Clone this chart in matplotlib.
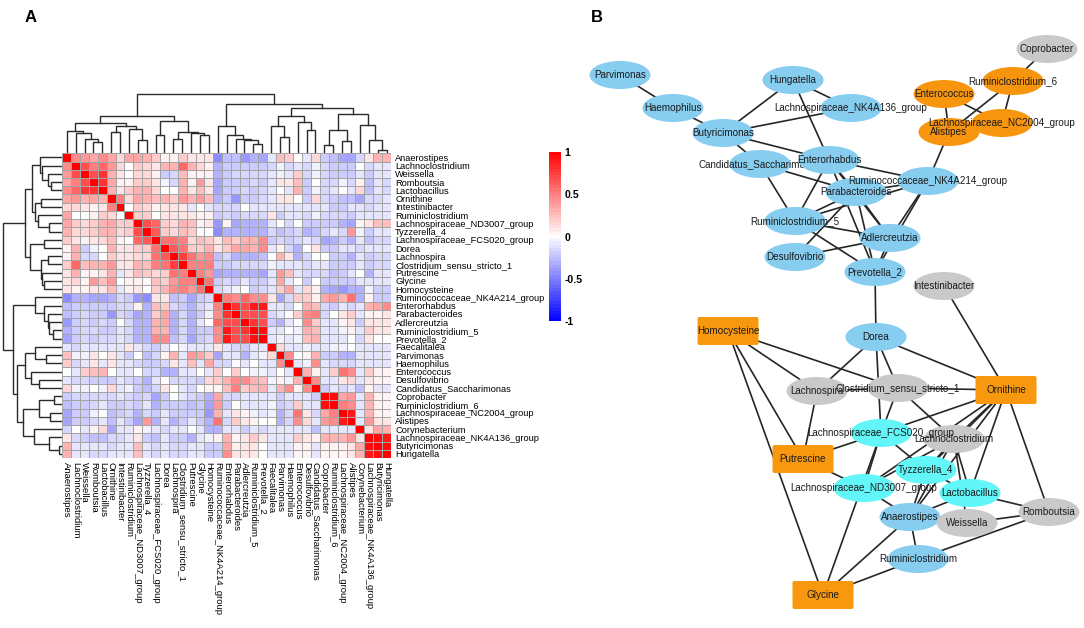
# Heatmap de correlaciones con dendrogramas (A) y red de asociaciones (B)
import matplotlib
matplotlib.use("Agg")
import matplotlib.pyplot as plt
import numpy as np
from matplotlib.colors import LinearSegmentedColormap
from matplotlib.patches import Ellipse, FancyBboxPatch

plt.rcParams['font.family'] = ['Liberation Sans', 'DejaVu Sans']

W, H = 1084, 628

# --- Datos del heatmap ---
labels = ['Anaerostipes', 'Lachnoclostridium', 'Weissella', 'Romboutsia', 'Lactobacillus', 'Ornithine',
          'Intestinibacter', 'Ruminiclostridium', 'Lachnospiraceae_ND3007_group', 'Tyzzerella_4',
          'Lachnospiraceae_FCS020_group', 'Dorea', 'Lachnospira', 'Clostridium_sensu_stricto_1', 'Putrescine',
          'Glycine', 'Homocysteine', 'Ruminococcaceae_NK4A214_group', 'Enterorhabdus', 'Parabacteroides',
          'Adlercreutzia', 'Ruminiclostridium_5', 'Prevotella_2', 'Faecalitalea', 'Parvimonas', 'Haemophilus',
          'Enterococcus', 'Desulfovibrio', 'Candidatus_Saccharimonas', 'Coprobacter', 'Ruminiclostridium_6',
          'Lachnospiraceae_NC2004_group', 'Alistipes', 'Corynebacterium', 'Lachnospiraceae_NK4A136_group',
          'Butyricimonas', 'Hungatella']

# triangulo superior, fila por fila (sin la diagonal)
upper = [
    [.45,.4,.35,.45,.35,.15,.35,.35,.3,.2,.05,.05,.2,.1,.1,.1,-.45, -.25,-.25,-.4,-.3,-.35,-.1,.25,.2,0,-.1,.15,-.2,-.25,-.35,-.35,-.15,.1,.3,.3],
    [.7,.5,.6,.4,.15,0,.2,.15,.1,.3,.3,.6,.3,.15,.05,-.3, -.2,-.2,-.2,-.2,-.2,-.15,-.05,-.15,-.1,-.15,-.05,-.15,-.2,-.2,-.2,0,-.15,-.1,-.1],
    [.7,.8,.3,.1,0,.15,.15,.05,-.2,-.15,.25,.05,.05,.05,-.3, -.2,-.15,-.15,-.15,-.15,-.1,-.05,-.1,.2,-.15,-.05,-.15,-.2,-.2,-.2,-.1,-.2,-.1,-.1],
    [.8,.35,.05,.05,.2,.2,.1,-.05,-.15,.3,.05,.4,.1,-.35, -.2,-.2,-.2,-.15,-.2,-.1,.1,.1,.25,-.2,0,-.15,-.15,-.05,-.15,.05,-.25,-.1,-.15],
    [.3,.1,.2,.3,.3,.15,0,0,.3,.1,.25,.1,-.35, -.2,-.2,-.15,-.2,-.15,-.1,0,-.1,.3,-.2,-.05,-.15,-.1,0,-.1,.15,-.25,-.1,-.15],
    [.5,.15,.35,.3,.25,.3,.2,.4,.3,.4,.25,-.3, -.2,-.4,-.2,-.2,-.15,-.1,.1,.1,0,-.2,.15,-.15,-.2,-.25,-.25,-.35,-.15,-.15,-.1],
    [0,.2,.15,.05,.1,.1,.1,-.1,0,-.1,-.15, -.15,-.15,0,-.1,-.1,-.1,-.1,-.1,-.1,-.1,-.1,-.1,-.2,-.2,-.1,-.1,-.15,-.1,-.1],
    [.2,.2,0,.1,.1,.1,.1,.05,.05,-.2, -.15,-.2,-.15,-.15,-.15,.1,-.2,-.1,-.1,-.15,-.05,-.15,-.15,-.15,-.2,-.1,-.1,-.1,-.1],
    [.7,.6,.2,.15,.3,.25,.05,.1,-.4, .05,-.35,-.3,-.3,-.3,-.1,0,-.15,0,-.2,-.2,-.2,-.2,-.3,-.35,.05,.1,.25,.25],
    [.65,.2,.15,.25,.2,.02,0,-.45, -.3,-.3,-.3,-.3,-.3,-.15,-.25,-.2,-.15,-.3,-.25,-.15,-.1,-.15,.4,-.05,-.2,-.1,-.1],
    [.55,.55,.5,.15,.25,.2,.1, .25,.2,.3,.3,.45,-.2,-.15,-.2,-.15,-.1,-.15,-.35,-.3,-.2,-.3,-.1,-.25,-.15,-.15],
    [.65,.55,.2,.2,.3,.1, .2,.35,.35,.3,.45,-.1,.05,-.15,-.3,0,.1,-.2,-.2,-.1,-.1,-.15,-.1,-.1,-.1],
    [.75,.55,.4,.45,-.25, -.15,-.3,-.3,-.3,-.25,0,.3,.1,-.3,-.15,0,0,-.2,-.2,-.3,-.1,-.2,-.15,-.15],
    [.5,.5,.5,-.2, -.2,-.15,-.15,-.15,-.15,-.05,-.1,-.1,-.1,-.15,-.1,-.1,-.2,-.2,-.2,-.1,-.2,-.15,-.15],
    [.5,.4,-.35, -.3,-.3,-.3,-.3,-.35,-.1,.4,.25,-.1,-.15,-.15,-.15,-.25,-.2,-.1,0,-.3,-.1,-.1],
    [.55,-.2, -.15,-.2,-.1,-.2,-.2,-.1,.35,-.1,0,-.2,0,-.2,-.2,-.2,-.2,-.1,-.1,-.1,-.1],
    [-.15, -.1,-.05,0,-.2,-.15,-.1,.2,.35,-.1,.15,.05,-.3,-.35,-.4,-.3,-.3,-.05,-.2,-.2],
    [.5,.45,.6,.45,.45,.1,-.35,-.15,.2,.2,.05,.35,.4,.3,.55,-.3,.05,-.2,-.2],
    [.8,.7,.9,.9,-.1,-.1,-.15,0,.3,.25,-.15,-.2,-.1,-.15,-.1,.3,.35,.45],
    [.7,.7,.7,-.15,-.1,-.02,.2,.45,.5,-.15,0,.1,.2,-.1,.05,.05,.1],
    [.8,.7,-.2,-.3,-.1,0,.45,.2,-.1,-.1,.05,.1,-.2,.1,.1,.1],
    [.95,-.1,-.1,0,-.05,.3,.25,-.1,-.1,-.05,.05,-.1,.2,.1,.1],
    [-.1,-.05,-.1,-.05,.25,.3,-.1,-.1,-.1,0,-.15,.1,0,0],
    [.15,-.1,-.1,-.05,-.1,-.1,-.05,-.05,0,-.1,-.1,-.1,-.1],
    [.45,0,.05,.3,-.2,-.2,-.3,-.3,-.1,-.1,-.1,-.1],
    [-.1,-.05,.45,-.1,-.15,-.15,-.15,-.1,-.1,-.1,-.1],
    [.3,.05,-.1,.2,.55,.45,-.1,.2,.05,.05],
    [.45,-.1,-.1,.1,.15,-.1,.1,.05,.05],
    [-.2,-.1,-.15,-.1,-.25,.05,-.1,-.1],
    [.95,.35,.4,-.1,.3,.05,.05],
    [.5,.45,-.1,.3,.05,.05],
    [.9,-.1,.3,.05,.05],
    [-.1,.4,.1,.1],
    [.1,.35,.3],
    [.95,.9],
    [.95],
]

# arbol del clustering: (altura, izquierda, derecha), las hojas son indices
tree = (59,
        (37.6,
         (30, (22, 0, (20, 1, (14, 2, (11, 3, 4)))), (27, (21, 5, 6), (24, 7, (13, 8, 9)))),
         (32, (18, 10, 11), (21, (14, 12, 13), (20, 14, (18, 15, 16))))),
        (49,
         (27, 17, (18, 18, (14, 19, (13, 20, (9, 21, 22))))),
         (45.7,
          (37, (27, 23, (16, 24, 25)), (31, 26, (23, 27, 28))),
          (39.3, (23, (8, 29, 30), (12, 31, 32)), (28, 33, (13, 34, (3, 35, 36)))))))

cbar_ticks = [-1, -0.5, 0, 0.5, 1]

# --- Datos de la red ---
node_names = ['Parvimonas', 'Haemophilus', 'Butyricimonas', 'Hungatella', 'Lachnospiraceae_NK4A136_group',
              'Candidatus_Saccharimonas', 'Enterorhabdus', 'Ruminococcaceae_NK4A214_group', 'Parabacteroides',
              'Ruminiclostridium_5', 'Adlercreutzia', 'Desulfovibrio', 'Prevotella_2', 'Coprobacter',
              'Ruminiclostridium_6', 'Enterococcus', 'Lachnospiraceae_NC2004_group', 'Alistipes', 'Intestinibacter',
              'Dorea', 'Homocysteine', 'Ornithine', 'Lachnospira', 'Clostridium_sensu_stricto_1',
              'Lachnospiraceae_FCS020_group', 'Lachnoclostridium', 'Putrescine', 'Tyzzerella_4',
              'Lachnospiraceae_ND3007_group', 'Lactobacillus', 'Anaerostipes', 'Weissella', 'Romboutsia',
              'Ruminiclostridium', 'Glycine']
node_x = [620, 673, 723, 793, 851, 760, 829, 928, 856, 795, 890, 795, 875, 1047, 1013, 944, 1002, 949, 944,
          876, 728, 1006, 817, 898, 881, 954, 803, 926, 864, 970, 910, 967, 1049, 918, 823]
node_y = [75, 108, 133, 80, 108, 164, 160, 181, 192, 221, 238, 257, 272, 49, 81, 94, 123, 132, 286,
          337, 331, 390, 391, 388, 433, 439, 459, 470, 488, 493, 517, 523, 512, 559, 595]
node_group = ['blue'] * 13 + ['grey', 'orange', 'orange', 'orange', 'orange', 'grey',
              'blue', 'met', 'met', 'grey', 'grey', 'cyan', 'grey', 'met', 'cyan', 'cyan', 'cyan',
              'blue', 'grey', 'grey', 'blue', 'met']
group_color = {'blue': '#87CDF0', 'orange': '#F8950F', 'cyan': '#62F6F8', 'grey': '#C9C9C9', 'met': '#F8980F'}

edges = [('Parvimonas', 'Haemophilus'), ('Haemophilus', 'Butyricimonas'), ('Butyricimonas', 'Hungatella'),
         ('Butyricimonas', 'Lachnospiraceae_NK4A136_group'), ('Hungatella', 'Lachnospiraceae_NK4A136_group'),
         ('Hungatella', 'Enterorhabdus'), ('Butyricimonas', 'Enterorhabdus'),
         ('Butyricimonas', 'Candidatus_Saccharimonas'), ('Candidatus_Saccharimonas', 'Parabacteroides'),
         ('Candidatus_Saccharimonas', 'Ruminiclostridium_5'), ('Enterorhabdus', 'Ruminococcaceae_NK4A214_group'),
         ('Enterorhabdus', 'Ruminiclostridium_5'), ('Enterorhabdus', 'Parabacteroides'),
         ('Enterorhabdus', 'Adlercreutzia'), ('Enterorhabdus', 'Prevotella_2'),
         ('Parabacteroides', 'Ruminococcaceae_NK4A214_group'), ('Parabacteroides', 'Ruminiclostridium_5'),
         ('Parabacteroides', 'Adlercreutzia'), ('Parabacteroides', 'Prevotella_2'),
         ('Parabacteroides', 'Desulfovibrio'), ('Ruminiclostridium_5', 'Ruminococcaceae_NK4A214_group'),
         ('Ruminiclostridium_5', 'Adlercreutzia'), ('Ruminiclostridium_5', 'Prevotella_2'),
         ('Desulfovibrio', 'Adlercreutzia'), ('Adlercreutzia', 'Ruminococcaceae_NK4A214_group'),
         ('Prevotella_2', 'Ruminococcaceae_NK4A214_group'), ('Prevotella_2', 'Adlercreutzia'),
         ('Prevotella_2', 'Dorea'), ('Ruminococcaceae_NK4A214_group', 'Alistipes'), ('Alistipes', 'Enterococcus'),
         ('Alistipes', 'Ruminiclostridium_6'), ('Enterococcus', 'Lachnospiraceae_NC2004_group'),
         ('Ruminiclostridium_6', 'Lachnospiraceae_NC2004_group'), ('Ruminiclostridium_6', 'Coprobacter'),
         ('Intestinibacter', 'Ornithine'), ('Dorea', 'Ornithine'), ('Dorea', 'Lachnospira'),
         ('Dorea', 'Clostridium_sensu_stricto_1'), ('Dorea', 'Lachnospiraceae_FCS020_group'),
         ('Homocysteine', 'Clostridium_sensu_stricto_1'), ('Homocysteine', 'Lachnospira'),
         ('Homocysteine', 'Putrescine'), ('Homocysteine', 'Glycine'), ('Lachnospira', 'Putrescine'),
         ('Lachnospira', 'Clostridium_sensu_stricto_1'), ('Clostridium_sensu_stricto_1', 'Ornithine'),
         ('Clostridium_sensu_stricto_1', 'Lachnospiraceae_FCS020_group'),
         ('Clostridium_sensu_stricto_1', 'Lachnoclostridium'), ('Ornithine', 'Lachnospiraceae_FCS020_group'),
         ('Ornithine', 'Lachnoclostridium'), ('Ornithine', 'Tyzzerella_4'), ('Ornithine', 'Lactobacillus'),
         ('Ornithine', 'Anaerostipes'), ('Ornithine', 'Lachnospiraceae_ND3007_group'), ('Ornithine', 'Romboutsia'),
         ('Lachnoclostridium', 'Weissella'), ('Lachnoclostridium', 'Lactobacillus'),
         ('Lachnoclostridium', 'Anaerostipes'), ('Lachnoclostridium', 'Lachnospiraceae_ND3007_group'),
         ('Lachnoclostridium', 'Tyzzerella_4'), ('Lachnospiraceae_FCS020_group', 'Putrescine'),
         ('Lachnospiraceae_FCS020_group', 'Tyzzerella_4'), ('Lachnospiraceae_FCS020_group', 'Lachnospiraceae_ND3007_group'),
         ('Lachnospiraceae_FCS020_group', 'Glycine'), ('Putrescine', 'Lachnospiraceae_ND3007_group'),
         ('Lachnospiraceae_ND3007_group', 'Anaerostipes'),
         ('Tyzzerella_4', 'Lactobacillus'), ('Tyzzerella_4', 'Anaerostipes'), ('Lactobacillus', 'Anaerostipes'),
         ('Lactobacillus', 'Romboutsia'), ('Weissella', 'Romboutsia'), ('Anaerostipes', 'Ruminiclostridium'),
         ('Anaerostipes', 'Glycine'), ('Ruminiclostridium', 'Glycine'), ('Ruminiclostridium', 'Romboutsia')]

# --- Matriz simetrica ---
n = len(labels)
mat = np.eye(n)
for i, fila in enumerate(upper):
    mat[i, i + 1:] = fila
    mat[i + 1:, i] = fila

cmap = LinearSegmentedColormap.from_list('bwr2', ['#0000FF', '#FFFFFF', '#FF0000'])


def px_axes(x0, y0, x1, y1):
    # ejes colocados en pixeles de la imagen (y hacia abajo)
    return fig.add_axes([x0 / W, 1 - y1 / H, (x1 - x0) / W, (y1 - y0) / H])


def dibuja_arbol(nodo, ax, vertical):
    # devuelve (posicion, altura) del nodo y pinta sus ramas
    if not isinstance(nodo, tuple):
        return nodo + 0.5, 0
    h, izq, der = nodo
    p1, h1 = dibuja_arbol(izq, ax, vertical)
    p2, h2 = dibuja_arbol(der, ax, vertical)
    a, b = [p1, p1, p2, p2], [h1, h, h, h2]
    if vertical:
        ax.plot(a, b, color='#2b2b2b', lw=1.0, solid_joinstyle='miter')
    else:
        ax.plot(b, a, color='#2b2b2b', lw=1.0, solid_joinstyle='miter')
    return (p1 + p2) / 2, h


fig = plt.figure(figsize=(W / 100, H / 100), dpi=100)

# --- Panel B: la red va en unos ejes que ocupan toda la figura ---
ax_net = fig.add_axes([0, 0, 1, 1])
ax_net.set_xlim(0, W)
ax_net.set_ylim(H, 0)
ax_net.axis('off')

pos = {name: (x, y) for name, x, y in zip(node_names, node_x, node_y)}
for a, b in edges:
    ax_net.plot([pos[a][0], pos[b][0]], [pos[a][1], pos[b][1]], color='#262626', lw=1.2, zorder=1)

for name, x, y, grupo in zip(node_names, node_x, node_y, node_group):
    color = group_color[grupo]
    # la etiqueta de Candidatus queda tapada por el nodo Enterorhabdus
    tapado = name == 'Candidatus_Saccharimonas'
    if grupo == 'met':
        caja = FancyBboxPatch((x - 29, y - 12.5), 58, 25, boxstyle='round,pad=1.5,rounding_size=2',
                              fc=color, ec='none', zorder=2)
        ax_net.add_patch(caja)
    else:
        ax_net.add_patch(Ellipse((x, y), 61, 28, fc=color, ec='none', zorder=1.8 if tapado else 2))
    ax_net.text(x, y, name, ha='center', va='center', fontsize=7.15, color='#1a1a1a', zorder=1.9 if tapado else 3)

ax_net.text(31, 17, 'A', fontsize=12, fontweight='bold', ha='center', va='center')
ax_net.text(597, 17, 'B', fontsize=12, fontweight='bold', ha='center', va='center')

# --- Panel A: heatmap ---
gx0, gy0, gx1, gy1 = 62.3, 153.3, 391, 458
ax = px_axes(gx0, gy0, gx1, gy1)
ax.pcolormesh(np.arange(n + 1), np.arange(n + 1), mat, cmap=cmap, vmin=-1, vmax=1,
              edgecolors='#a4a4a4', linewidth=0.72)
ax.set_xlim(0, n)
ax.set_ylim(n, 0)
ax.set_xticks(np.arange(n) + 0.5)
ax.set_xticklabels(labels, rotation=-90, fontsize=6.8, ha='center', va='top')
ax.yaxis.tick_right()
ax.set_yticks(np.arange(n) + 0.5)
ax.set_yticklabels(labels, fontsize=6.65)
ax.tick_params(length=0, pad=3)
for lado in ax.spines.values():
    lado.set_visible(False)

# dendrogramas
ax_top = px_axes(gx0, gy0 - 60, gx1, gy0)
ax_top.set_xlim(0, n)
ax_top.set_ylim(0, 60)
ax_top.axis('off')
dibuja_arbol(tree, ax_top, True)

ax_left = px_axes(gx0 - 60, gy0, gx0, gy1)
ax_left.set_xlim(60, 0)
ax_left.set_ylim(n, 0)
ax_left.axis('off')
dibuja_arbol(tree, ax_left, False)

# barra de color
ax_cb = px_axes(549, 152, 560.5, 321)
niveles = np.linspace(-1, 1, 52)
ax_cb.pcolormesh([0, 1], niveles, ((niveles[:-1] + niveles[1:]) / 2).reshape(-1, 1), cmap=cmap, vmin=-1, vmax=1)
ax_cb.set_ylim(-1, 1)
ax_cb.set_xticks([])
ax_cb.yaxis.tick_right()
ax_cb.set_yticks(cbar_ticks)
ax_cb.set_yticklabels(['-1', '-0.5', '0', '0.5', '1'], fontsize=7.6, fontweight='bold')
ax_cb.tick_params(length=0, pad=3)
for lado in ax_cb.spines.values():
    lado.set_visible(False)

fig.savefig('out.png', dpi=100, facecolor='white')
